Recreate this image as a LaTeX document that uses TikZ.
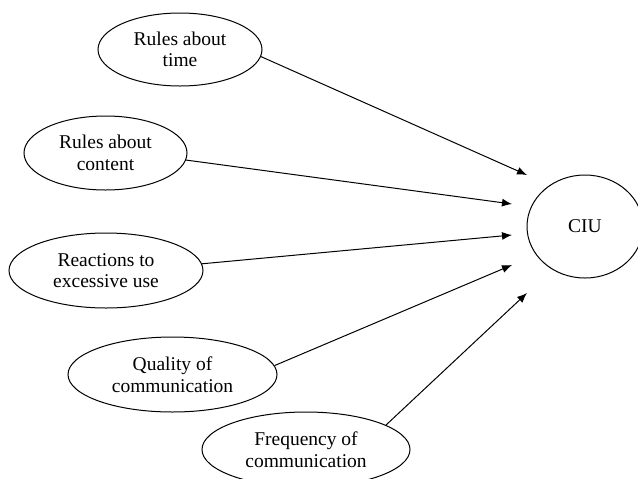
\documentclass[tikz,border=0pt]{standalone}
\usepackage{fontspec}
\setmainfont{Liberation Serif}
\usetikzlibrary{shapes.geometric,arrows.meta}

\tikzset{
  factor/.style={draw, ellipse, inner sep=0pt, align=center, line width=0.5pt,
    font=\fontsize{9.75}{10.8}\selectfont},
  link/.style={-{Latex[length=5pt,width=4pt]}, line width=0.5pt}
}

\begin{document}
\begin{tikzpicture}[x=0.5pt,y=-0.5pt]
\path[use as bounding box, clip] (0,0) rectangle (638,478);

% Predictors
\node[factor, minimum width=82pt, minimum height=36.5pt] (time) at (180,49.5) {Rules about\\time};
\node[factor, minimum width=81.5pt, minimum height=37pt] (content) at (105.5,153) {Rules about\\content};
\node[factor, minimum width=97pt, minimum height=37.5pt] (reactions) at (106,270.5) {Reactions to\\excessive use};
\node[factor, minimum width=104.5pt, minimum height=37.5pt] (quality) at (172.5,374.5) {Quality of\\communication};
\node[factor, minimum width=104pt, minimum height=37.5pt] (frequency) at (306,449.5) {Frequency of\\communication};

% Outcome
\node[factor, minimum width=58pt, minimum height=51.5pt] (ciu) at (585,226.5) {CIU};

% Arrow tips stop short of CIU
\coordinate (t1) at (527,175);
\coordinate (t2) at (512,204);
\coordinate (t3) at (512,235);
\coordinate (t4) at (512,265);
\coordinate (t5) at (527,293);

% Arrows
\draw[link] (time.-5) -- (t1);
\draw[link] (content.-5) -- (t2);
\draw[link] (reactions.4) -- (t3);
\draw[link] (quality.5) -- (t4);
\draw[link] (frequency.17) -- (t5);

\end{tikzpicture}
\end{document}
